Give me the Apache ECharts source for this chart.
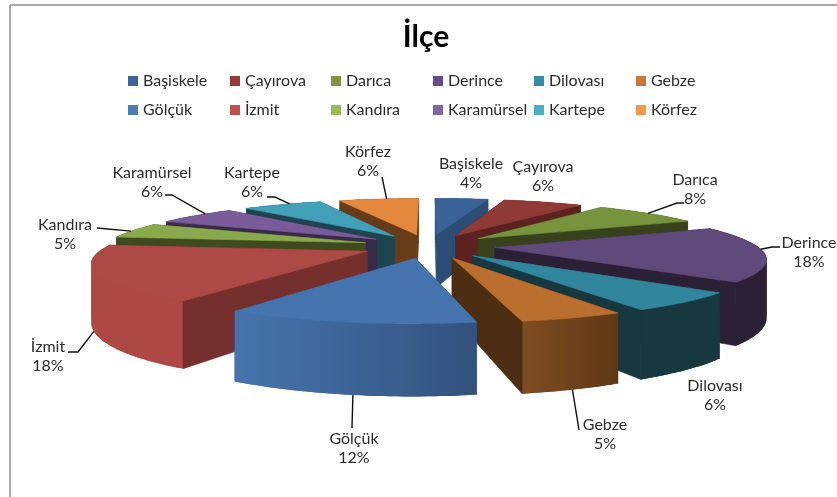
<!DOCTYPE html>
<html><head><meta charset="utf-8">
<style>html,body{margin:0;padding:0;background:#fff}#c{width:837px;height:497px}</style>
<script src="https://cdn.jsdelivr.net/npm/echarts@6/dist/echarts.min.js"></script>
</head><body><div id="c"></div>
<script>
var categories = ['Başiskele','Çayırova','Darıca','Derince','Dilovası','Gebze','Gölçük','İzmit','Kandıra','Karamürsel','Kartepe','Körfez'];
var shares = [4,6,8,18,6,5,12,18,5,6,6,6];

var topColors = ['#3b6397','#8f3a37','#77933c','#604a7b','#31859c','#bb6f2f','#4674ae','#ae4a46','#8aa84c','#7a5c9a','#43a0b9','#e3883c'];
var legendColors = ['#3c6496','#983a38','#7c983f','#664b84','#358ca8','#c9783a','#4a7ebb','#c4504c','#9bbb59','#8064a2','#4bacc6','#f79646'];
var radialColors = ['#2c4d75','#5b2220','#37421c','#2c2036','#17383f','#4d2e13','#33527d','#752f2d','#3f4a1f','#382a48','#1e4450','#673c18'];
var wallLeft = ['#2c4d75','#5b2220','#37421c','#2c2036','#17383f','#7f4d22','#4674ae','#ad4844','#3f4a1f','#382a48','#1e4450','#673c18'];
var wallRight = ['#2c4d75','#5b2220','#37421c','#2c2036','#17383f','#5f3815','#33527d','#ad4844','#3f4a1f','#382a48','#1e4450','#673c18'];

var labelCenters = [[471,173.5],[543,176.5],[695,189.5],[809,252.5],[715,395.5],[605,434.5],[354,448.5],[48,356.5],[65,234.5],[152,182.5],[252,182.5],[368,161.5]];
var legendCols = [128,230,331,433,534,636];
var legendRows = [73,102];
// leader: fraction along slice's outer arc, whether it starts at wall bottom, then its elbow points
var leaders = [null,null,
  {t:.5,low:0,pts:[[677,203],[684,203]]},
  {t:.42,low:0,pts:[[772,247],[780,247]]},
  null,
  {t:.5,low:1,pts:[[579,430]]},
  {t:.48,low:1,pts:[[352,428]]},
  {t:.56,low:1,pts:[[78,352],[68,352]]},
  {t:.45,low:0,pts:[[97,228]]},
  {t:.65,low:0,pts:[[172,195],[165,195]]},
  {t:.6,low:0,pts:[[275,197],[267,197]]},
  {t:.6,low:0,pts:[[382,177]]}];

var CX=428.5, CY=246, R=284, EXPLODE=72, KY=.18, H=60, D=1477, S0=.923;
function project(X,Y,z){var s=S0*D/(D-Y);return [CX+X*s,CY+Y*KY*s+z*s];}

var total=shares.reduce(function(a,b){return a+b;},0);
var starts=[],acc=0;
shares.forEach(function(v){starts.push(acc/total*Math.PI*2);acc+=v;});

function sliceParts(i){
  var a0=starts[i],a1=a0+shares[i]/total*Math.PI*2,mid=(a0+a1)/2;
  var ox=EXPLODE*Math.sin(mid),oy=-EXPLODE*Math.cos(mid);
  function arc(a,r){return [ox+r*Math.sin(a),oy-r*Math.cos(a)];}
  return {a0:a0,a1:a1,mid:mid,ox:ox,oy:oy,arc:arc};
}
function renderSlice(i){
  var p=sliceParts(i),N=Math.max(8,Math.round(shares[i]*3)),rimTop=[],rimLow=[];
  for(var k=0;k<=N;k++){var q=p.arc(p.a0+(p.a1-p.a0)*k/N,R);rimTop.push(project(q[0],q[1],0));rimLow.push(project(q[0],q[1],H));}
  var apexT=project(p.ox,p.oy,0),apexL=project(p.ox,p.oy,H);
  var minX=Infinity,maxX=-Infinity;rimTop.forEach(function(c){minX=Math.min(minX,c[0]);maxX=Math.max(maxX,c[0]);});
  function poly(points,fill){return {type:'polygon',shape:{points:points},style:{fill:fill,stroke:fill,lineWidth:.6}};}
  var startWall=poly([apexT,rimTop[0],rimLow[0],apexL],radialColors[i]);
  var endWall=poly([apexT,rimTop[N],rimLow[N],apexL],radialColors[i]);
  var grad=new echarts.graphic.LinearGradient(minX,0,maxX,0,[{offset:0,color:wallLeft[i]},{offset:1,color:wallRight[i]}],true);
  var strips=[];
  for(var j=0;j<N;j++){var e=Math.min(j+2,N);
    strips.push({type:'polygon',shape:{points:[rimTop[j],rimTop[j+1],rimTop[e],rimLow[e],rimLow[j+1],rimLow[j]]},style:{fill:grad}});}
  var top=poly([apexT].concat(rimTop),topColors[i]);
  var startFaces=-Math.cos(p.a0-Math.PI/2)>0, endFaces=-Math.cos(p.a1+Math.PI/2)>0;
  var kids=[];
  if(!startFaces)kids.push(startWall);
  if(!endFaces)kids.push(endWall);
  kids=kids.concat(strips);
  if(startFaces)kids.push(startWall);
  if(endFaces)kids.push(endWall);
  kids.push(top);
  return {type:'group',children:kids};
}
function renderLabel(i){
  var kids=[],c=labelCenters[i],L=leaders[i];
  if(L){
    var p=sliceParts(i),q=p.arc(p.a0+(p.a1-p.a0)*L.t,R);
    var st=project(q[0],q[1],L.low?H:0);
    kids.push({type:'polyline',shape:{points:[st].concat(L.pts)},style:{stroke:'#111',lineWidth:1.4,fill:null}});
  }
  kids.push({type:'text',style:{x:c[0],y:c[1],text:categories[i]+'\n'+shares[i]+'%',align:'center',verticalAlign:'middle',lineHeight:19,fill:'#2b2b2b',font:'16px Lato'}});
  return {type:'group',children:kids};
}

var depthOrder=categories.map(function(_,i){return i;}).sort(function(a,b){return Math.cos(sliceParts(b).mid)-Math.cos(sliceParts(a).mid);});
var series=[],legends=[];
categories.forEach(function(name,i){
  series.push({type:'custom',name:name,coordinateSystem:'none',silent:true,animation:false,z:2+depthOrder.indexOf(i),
    itemStyle:{color:legendColors[i]},data:[shares[i]],
    renderItem:function(){return {type:'group',children:[renderSlice(i)]};}});
  legends.push({data:[name],left:legendCols[i%6],top:legendRows[Math.floor(i/6)],itemWidth:10,itemHeight:10,itemGap:5,icon:'rect',
    textStyle:{fontFamily:'Lato',fontSize:16,color:'#2b2b2b',padding:0},padding:0,selectedMode:false});
});
series.push({type:'custom',name:'labels',coordinateSystem:'none',silent:true,animation:false,z:30,data:[0],
  renderItem:function(){return {type:'group',children:categories.map(function(_,i){return renderLabel(i);})};}});

var chart=echarts.init(document.getElementById('c'),null,{renderer:'canvas'});
chart.setOption({
  backgroundColor:'#fff',animation:false,
  title:{text:'İlçe',left:421,top:17,textAlign:'center',textStyle:{fontFamily:'Lato',fontWeight:'bold',fontSize:30,color:'#000'}},
  legend:legends,
  graphic:[
    {type:'line',shape:{x1:10,y1:5,x2:837,y2:5},style:{stroke:'#8c8c8c',lineWidth:1.5},z:1},
    {type:'line',shape:{x1:10,y1:5,x2:10,y2:497},style:{stroke:'#a8a8a8',lineWidth:2},z:1}
  ],
  series:series
});
</script></body></html>
